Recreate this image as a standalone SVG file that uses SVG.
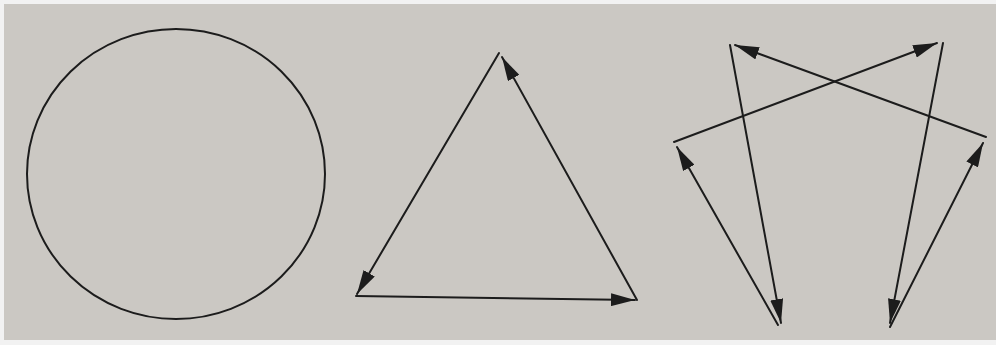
<svg xmlns="http://www.w3.org/2000/svg" width="996" height="345" viewBox="0 0 996 345">
<style>
.ln{stroke:#1c1c1c;stroke-width:2;fill:none;stroke-linecap:round}
</style>
<defs>
<marker id="ah" viewBox="0 0 24 13" refX="24" refY="6.5" markerWidth="24" markerHeight="13" markerUnits="userSpaceOnUse" orient="auto">
<path d="M0,0 L24,6.5 L0,13 Z" fill="#1c1c1c"/>
</marker>
</defs>
<rect x="0" y="0" width="996" height="345" fill="#f2f2f2"/>
<rect x="4" y="4" width="992" height="336" fill="#cbc8c3"/>
<g id="circle">
<ellipse class="ln" cx="176" cy="174" rx="149" ry="145"/>
</g>
<g id="triangle">
<line class="ln" x1="499" y1="53" x2="357" y2="294" marker-end="url(#ah)"/>
<line class="ln" x1="356" y1="296" x2="635" y2="300" marker-end="url(#ah)"/>
<line class="ln" x1="637" y1="300" x2="502" y2="57" marker-end="url(#ah)"/>
</g>
<g id="star">
<line class="ln" x1="730" y1="45" x2="781" y2="323" marker-end="url(#ah)"/>
<line class="ln" x1="778" y1="325" x2="677" y2="147" marker-end="url(#ah)"/>
<line class="ln" x1="674" y1="142" x2="937" y2="43" marker-end="url(#ah)"/>
<line class="ln" x1="943" y1="43" x2="890" y2="323" marker-end="url(#ah)"/>
<line class="ln" x1="890" y1="327" x2="983" y2="143" marker-end="url(#ah)"/>
<line class="ln" x1="986" y1="137" x2="735" y2="45" marker-end="url(#ah)"/>
</g>
</svg>
